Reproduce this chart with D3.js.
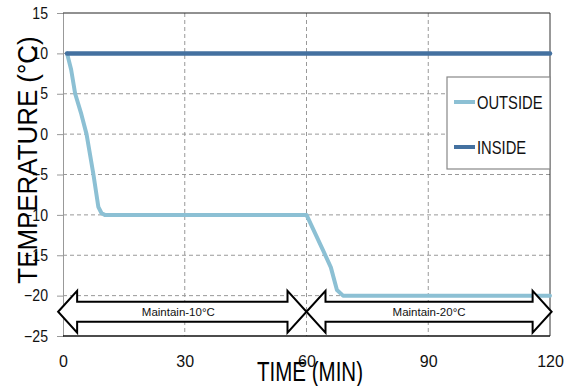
<!DOCTYPE html>
<html><head><meta charset="utf-8">
<script src="https://cdn.jsdelivr.net/npm/d3@7"></script>
<style>body{margin:0;background:#fff}svg{display:block;font-family:Arial,"Liberation Sans",sans-serif}</style>
</head><body><svg id="c" width="574" height="386"></svg>
<script>
const xTicks = [0, 30, 60, 90, 120];
const yTicks = [15, 10, 5, 0, -5, -10, -15, -20, -25];
const outsideTime = [1, 2, 3, 4.5, 5.8, 7.5, 8.7, 9.5, 10.3, 60, 64, 66, 67.5, 69, 120];
const outsideTemp = [10, 8, 5, 2.5, 0, -5, -9, -9.8, -10, -10, -14.3, -16.5, -19.3, -20, -20];
const insideTime = [1, 120];
const insideTemp = [10, 10];
const seriesNames = ["OUTSIDE", "INSIDE"];
const arrowLabels = ["Maintain-10\u00B0C", "Maintain-20\u00B0C"];
const arrowFrom = [-1.2, 60];
const arrowTo = [60, 120.4];
const arrowTemp = -22;

const svg = d3.select("#c");
const L = 63, R = 550, T = 13, B = 336;
const x = d3.scaleLinear().domain([0, 120]).range([L, R]);
const y = d3.scaleLinear().domain([-25, 15]).range([B, T]);
const colors = ["#8cc0d4", "#4471a0"];

// grid
const g = svg.append("g");
g.selectAll(".hg").data(yTicks.filter(v => v > -25 && v < 15)).join("line")
  .attr("x1", L).attr("x2", R).attr("y1", d => y(d)).attr("y2", d => y(d))
  .attr("stroke", "#999").attr("stroke-dasharray", "4,3").attr("stroke-width", 1);
g.selectAll(".vg").data(xTicks.filter(v => v > 0 && v < 120)).join("line")
  .attr("y1", T).attr("y2", B).attr("x1", d => x(d)).attr("x2", d => x(d))
  .attr("stroke", "#999").attr("stroke-dasharray", "4,3").attr("stroke-width", 1);

// axes
const yAxis = d3.axisLeft(y).tickValues(yTicks).tickSize(6).tickPadding(9);
const ya = svg.append("g").attr("transform", `translate(${L},0)`).call(yAxis);
ya.select(".domain").attr("stroke", "#999");
ya.selectAll(".tick line").attr("stroke", "#999");
ya.selectAll(".tick text").attr("font-size", 16).attr("fill", "#111")
  .attr("font-family", "Arial, 'Liberation Sans', sans-serif")
  .attr("transform", function(){ return "scale(1,1)"; });
ya.selectAll(".tick text").each(function(){
  const t = d3.select(this); const xx = -15;
  t.attr("x", null).attr("transform", `translate(${xx},0) scale(0.88,1)`);
});
const xAxis = d3.axisBottom(y.copy().domain([0,120]).range([L,R])).tickValues(xTicks).tickSize(0).tickPadding(20);
const xa = svg.append("g").attr("transform", `translate(0,${B})`).call(xAxis);
xa.select(".domain").remove();
xa.selectAll(".tick text").attr("font-size", 16).attr("fill", "#111")
  .attr("font-family", "Arial, 'Liberation Sans', sans-serif");

// frame
svg.append("line").attr("x1", L).attr("x2", R).attr("y1", T).attr("y2", T).attr("stroke", "#222");
svg.append("line").attr("x1", R).attr("x2", R).attr("y1", T).attr("y2", B).attr("stroke", "#333");
svg.append("line").attr("x1", L).attr("x2", R).attr("y1", B).attr("y2", B).attr("stroke", "#111").attr("stroke-width", 1.5);

// lines
const line = d3.line().x(d => x(d[0])).y(d => y(d[1]));
svg.append("path").datum(outsideTime.map((t, i) => [t, outsideTemp[i]]))
  .attr("d", line).attr("fill", "none").attr("stroke", colors[0]).attr("stroke-width", 4)
  .attr("stroke-linejoin", "round").attr("stroke-linecap", "round");
svg.append("path").datum(insideTime.map((t, i) => [t, insideTemp[i]]))
  .attr("d", line).attr("fill", "none").attr("stroke", colors[1]).attr("stroke-width", 4.5)
  .attr("stroke-linecap", "round");

// arrows
const hh = 21, bh = 10, hl = 19;
arrowLabels.forEach((lab, i) => {
  const x0 = x(arrowFrom[i]), x1 = x(arrowTo[i]), cy = y(arrowTemp);
  const p = [[x0, cy], [x0 + hl, cy - hh], [x0 + hl, cy - bh], [x1 - hl, cy - bh], [x1 - hl, cy - hh],
    [x1, cy], [x1 - hl, cy + hh], [x1 - hl, cy + bh], [x0 + hl, cy + bh], [x0 + hl, cy + hh]];
  svg.append("path").attr("d", "M" + p.map(q => q.join(",")).join("L") + "Z")
    .attr("fill", "#fff").attr("stroke", "#000").attr("stroke-width", 2).attr("stroke-linejoin", "miter");
  svg.append("text").attr("x", (x0 + x1) / 2 - (i === 0 ? 4 : 0)).attr("y", cy + 4)
    .attr("text-anchor", "middle").attr("font-size", 11.5).attr("fill", "#111").text(lab);
});

// legend
const lg = svg.append("g");
lg.append("rect").attr("x", 447).attr("y", 77).attr("width", R - 447).attr("height", 92)
  .attr("fill", "#fff").attr("stroke", "#888").attr("stroke-width", 1.2);
seriesNames.forEach((n, i) => {
  const ly = 102 + i * 45;
  lg.append("line").attr("x1", 454).attr("x2", 475).attr("y1", ly).attr("y2", ly)
    .attr("stroke", colors[i]).attr("stroke-width", 4);
  lg.append("text").attr("transform", `translate(477,${ly + 6.5}) scale(0.82,1)`)
    .attr("font-size", 18).attr("fill", "#111").text(n);
});

// titles
svg.append("text").attr("transform", "translate(310,381) scale(0.76,1)")
  .attr("text-anchor", "middle").attr("font-size", 27).attr("fill", "#000").text("TIME (MIN)");
svg.append("text").attr("transform", "translate(37,160) rotate(-90) scale(0.96,1)")
  .attr("text-anchor", "middle").attr("font-size", 27).attr("fill", "#000").text("TEMPERATURE (\u00B0C)");
</script></body></html>
